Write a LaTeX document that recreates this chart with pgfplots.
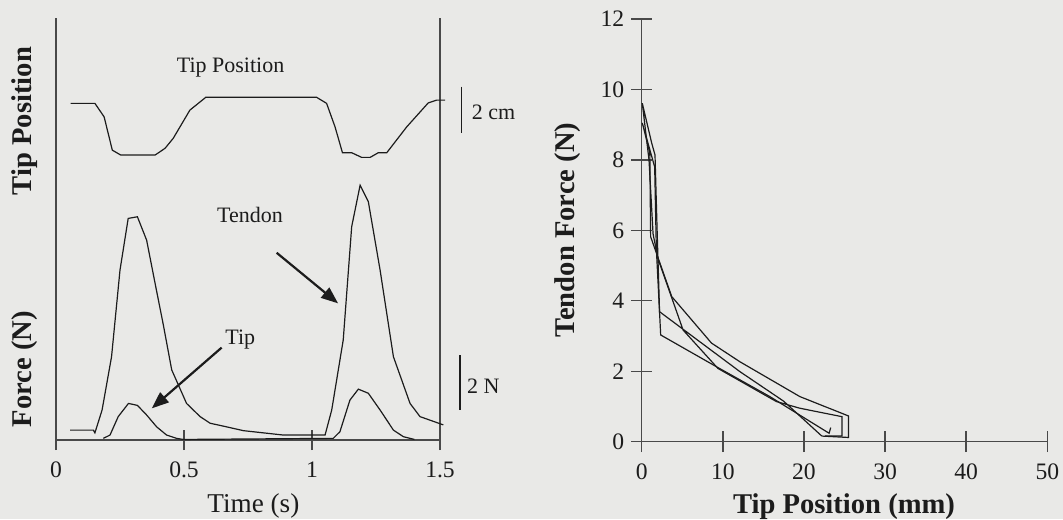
\documentclass[border=0pt]{standalone}
\usepackage{pgfplots}
\pgfplotsset{compat=1.18}
\usepackage{pgfplotstable}
\usepackage{fontspec}
\setmainfont{Liberation Serif}
\usetikzlibrary{arrows.meta}

\definecolor{bg}{RGB}{233,233,231}
\definecolor{ink}{RGB}{28,28,28}

% left panel: time (s), force (N); tip position in cm
\pgfplotstableread{
t pos
0.057 2.32
0.152 2.32
0.188 1.74
0.220 0.31
0.253 0.10
0.387 0.10
0.426 0.39
0.458 0.82
0.523 2.03
0.585 2.58
1.018 2.58
1.057 2.32
1.090 1.31
1.119 0.20
1.155 0.20
1.194 0.00
1.227 0.00
1.259 0.20
1.292 0.20
1.370 1.31
1.454 2.34
1.487 2.46
1.520 2.46
}\tippos

\pgfplotstableread{
t F
0.055 0.36
0.146 0.36
0.152 0.26
0.180 1.09
0.217 3.03
0.250 6.18
0.282 8.06
0.318 8.12
0.354 7.27
0.387 5.70
0.419 4.20
0.452 2.55
0.510 1.33
0.563 0.85
0.602 0.61
0.656 0.50
0.732 0.34
0.888 0.18
1.051 0.18
1.077 1.09
1.122 3.64
1.155 7.76
1.188 9.27
1.220 8.67
1.266 6.18
1.318 3.03
1.383 1.33
1.422 0.85
1.513 0.55
}\tendon

\pgfplotstableread{
t F
0.185 0.06
0.211 0.18
0.243 0.85
0.283 1.33
0.318 1.26
0.354 0.91
0.393 0.48
0.432 0.18
0.471 0.06
0.497 0.02
1.083 0.06
1.109 0.30
1.148 1.45
1.181 1.85
1.220 1.70
1.266 1.09
1.318 0.36
1.357 0.12
1.383 0.06
1.400 0.02
}\tipforce

% right panel: tip position (mm) vs tendon force (N)
\pgfplotstableread{
x F
23.3 0.40
23.1 0.24
15.8 1.28
9.2 2.13
2.34 3.03
1.8 5.5
1.6 7.8
0.07 9.05
1.0 8.2
1.1 5.82
3.7 4.12
8.6 2.80
12.1 2.27
19.5 1.28
25.5 0.73
25.5 0.12
22.2 0.16
}\cycA

\pgfplotstableread{
x F
22.2 0.16
17.5 1.15
12.1 1.99
2.2 3.69
1.9 6.0
1.64 8.14
1.23 8.48
0.07 9.61
0.9 8.0
1.4 5.9
2.0 5.2
5.1 3.17
9.4 2.08
16.6 1.14
19.5 0.95
24.7 0.71
24.7 0.16
22.6 0.16
}\cycB

\begin{document}
\begin{tikzpicture}[x=1pt,y=1pt]
\fill[bg] (-28pt,-39.5pt) rectangle (503.5pt,220pt);
\useasboundingbox (-28pt,-39.5pt) rectangle (503.5pt,220pt);

\begin{axis}[
  at={(0pt,0pt)}, anchor=south west, scale only axis,
  width=192pt, height=211pt,
  xmin=0, xmax=1.5, ymin=0, ymax=15.35,
  axis x line=bottom, axis y line=box,
  axis line style={-, ink!80, line width=0.7pt},
  xtick={0,0.5,1,1.5}, xticklabels={0,0.5,1,1.5}, ytick=\empty,
  tick align=center, major tick length=10pt,
  tick style={ink!80, line width=0.7pt},
  xticklabel style={font=\fontsize{11.8}{14}\selectfont, text=ink, yshift=-2.5pt},
  clip=false,
]
\addplot[ink, line width=0.6pt] table[x=t, y expr=10.28+0.847*\thisrow{pos}] {\tippos};
\addplot[ink, line width=0.6pt] table[x=t, y=F] {\tendon};
\addplot[ink, line width=0.6pt] table[x=t, y=F] {\tipforce};

\node[ink, font=\fontsize{11}{13}\selectfont] at (axis cs:0.682,13.53) {Tip Position};
\node[ink, font=\fontsize{11}{13}\selectfont] at (axis cs:0.758,8.18) {Tendon};
\node[ink, font=\fontsize{11}{13}\selectfont] at (axis cs:0.720,3.64) {Tip};
\draw[ink, line width=1.1pt, -{Triangle[length=8.5pt,width=6.5pt]}] (axis cs:0.862,6.81) -- (axis cs:1.102,4.97);
\draw[ink, line width=1.1pt, -{Triangle[length=8.5pt,width=6.5pt]}] (axis cs:0.647,3.36) -- (axis cs:0.374,1.15);

% scale bars
\draw[ink, line width=0.7pt] (axis cs:1.585,12.85) -- (axis cs:1.585,11.15);
\node[ink, anchor=base west, inner sep=0pt, font=\fontsize{11}{13}\selectfont] at (axis cs:1.623,11.64) {2 cm};
\draw[ink, line width=0.7pt] (axis cs:1.578,3.09) -- (axis cs:1.578,1.09);
\node[ink, anchor=base west, inner sep=0pt, font=\fontsize{11}{13}\selectfont] at (axis cs:1.604,1.70) {2 N};

\node[ink, anchor=base, font=\fontsize{13.6}{16}\selectfont] at (axis cs:0.771,-2.62) {Time (s)};
\node[ink, rotate=90, font=\bfseries\fontsize{14.3}{17}\selectfont] at (axis cs:-0.121,11.6) {Tip Position};
\node[ink, rotate=90, font=\bfseries\fontsize{14.3}{17}\selectfont] at (axis cs:-0.121,2.58) {Force (N)};
\end{axis}

\begin{axis}[
  at={(292.85pt,-0.85pt)}, anchor=south west, scale only axis,
  width=202.8pt, height=211.35pt,
  xmin=0, xmax=50, ymin=0, ymax=12,
  axis lines=left,
  axis line style={-, ink!80, line width=0.7pt},
  xtick={0,10,20,30,40,50}, xticklabels={0,10,20,30,40,50},
  ytick={0,2,4,6,8,10,12}, yticklabels={0,2,4,6,8,10,12},
  tick align=center, major tick length=10.5pt,
  tick style={ink!80, line width=0.7pt},
  ticklabel style={font=\fontsize{11.8}{14}\selectfont, text=ink},
  xticklabel style={yshift=-2.5pt},
  clip=false,
]
\addplot[ink, line width=0.6pt] table[x=x, y=F] {\cycA};
\addplot[ink, line width=0.6pt] table[x=x, y=F] {\cycB};

\node[ink, anchor=base, font=\bfseries\fontsize{14.3}{17}\selectfont] at (axis cs:24.94,-2.05) {Tip Position (mm)};
\node[ink, rotate=90, font=\bfseries\fontsize{14.3}{17}\selectfont] at (axis cs:-9.08,6.01) {Tendon Force (N)};
\end{axis}
\end{tikzpicture}
\end{document}
